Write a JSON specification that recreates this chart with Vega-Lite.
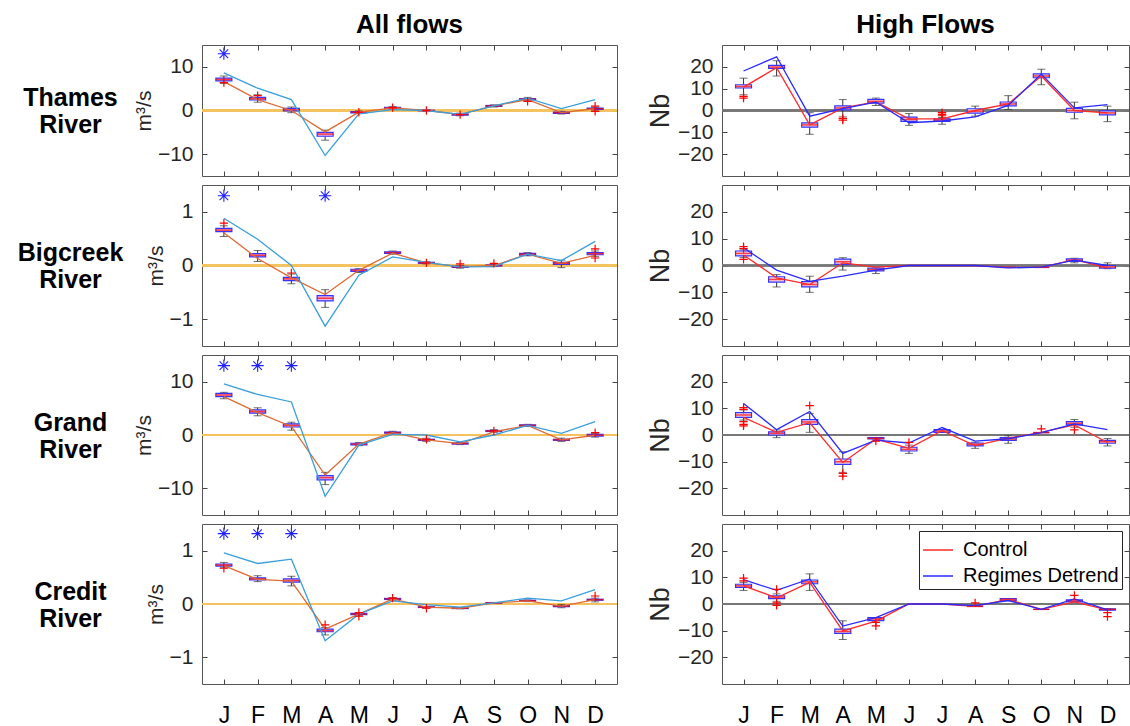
{
  "$schema": "https://vega.github.io/schema/vega-lite/v6.json",
  "padding": {"left": 16, "top": 11, "right": 0, "bottom": 0},
  "background": "white",
  "config": {
    "font": "Liberation Sans",
    "view": {"stroke": "#555555", "strokeWidth": 1},
    "axis": {
      "domain": false, "grid": false, "tickColor": "#444444", "tickSize": -5, "tickWidth": 1,
      "labelFontSize": 21, "labelColor": "#262626", "labelFlush": false, "labelPadding": 14,
      "titleFontSize": 21, "titleFontWeight": "normal", "titleColor": "#262626", "titlePadding": 3
    },
    "title": {"fontSize": 26, "fontWeight": "bold", "color": "#000000", "frame": "group", "anchor": "middle", "offset": 7}
  },
  "datasets": {
    "stats": [
      {"p":"A1","m":1,"lo":6.2,"q1":6.8,"md":7.1,"q3":7.4,"hi":7.9},
      {"p":"A1","m":2,"lo":1.9,"q1":2.4,"md":2.7,"q3":3.0,"hi":3.6},
      {"p":"A1","m":3,"lo":-0.5,"q1":-0.1,"md":0.2,"q3":0.5,"hi":0.8},
      {"p":"A1","m":4,"lo":-6.8,"q1":-5.9,"md":-5.4,"q3":-5.0,"hi":-4.5},
      {"p":"A1","m":5,"lo":-0.7,"q1":-0.55,"md":-0.4,"q3":-0.25,"hi":-0.1},
      {"p":"A1","m":6,"lo":0.3,"q1":0.45,"md":0.6,"q3":0.75,"hi":0.9},
      {"p":"A1","m":7,"lo":-0.15,"q1":-0.05,"md":0.0,"q3":0.05,"hi":0.15},
      {"p":"A1","m":8,"lo":-1.2,"q1":-1.05,"md":-0.9,"q3":-0.75,"hi":-0.6},
      {"p":"A1","m":9,"lo":0.8,"q1":0.95,"md":1.05,"q3":1.15,"hi":1.3},
      {"p":"A1","m":10,"lo":2.2,"q1":2.45,"md":2.6,"q3":2.75,"hi":3.0},
      {"p":"A1","m":11,"lo":-0.8,"q1":-0.65,"md":-0.5,"q3":-0.35,"hi":-0.2},
      {"p":"A1","m":12,"lo":0.1,"q1":0.25,"md":0.4,"q3":0.55,"hi":0.7},

      {"p":"A2","m":1,"lo":0.54,"q1":0.63,"md":0.66,"q3":0.69,"hi":0.74},
      {"p":"A2","m":2,"lo":0.075,"q1":0.16,"md":0.19,"q3":0.22,"hi":0.28},
      {"p":"A2","m":3,"lo":-0.34,"q1":-0.28,"md":-0.25,"q3":-0.22,"hi":-0.16},
      {"p":"A2","m":4,"lo":-0.78,"q1":-0.66,"md":-0.61,"q3":-0.56,"hi":-0.45},
      {"p":"A2","m":5,"lo":-0.13,"q1":-0.11,"md":-0.09,"q3":-0.07,"hi":-0.06},
      {"p":"A2","m":6,"lo":0.21,"q1":0.225,"md":0.24,"q3":0.255,"hi":0.27},
      {"p":"A2","m":7,"lo":0.03,"q1":0.04,"md":0.05,"q3":0.06,"hi":0.07},
      {"p":"A2","m":8,"lo":-0.05,"q1":-0.035,"md":-0.025,"q3":-0.015,"hi":0.0},
      {"p":"A2","m":9,"lo":-0.02,"q1":-0.01,"md":0.0,"q3":0.01,"hi":0.02},
      {"p":"A2","m":10,"lo":0.18,"q1":0.195,"md":0.21,"q3":0.225,"hi":0.24},
      {"p":"A2","m":11,"lo":-0.04,"q1":0.02,"md":0.04,"q3":0.06,"hi":0.1},
      {"p":"A2","m":12,"lo":0.17,"q1":0.2,"md":0.22,"q3":0.24,"hi":0.27},

      {"p":"A3","m":1,"lo":6.8,"q1":7.2,"md":7.5,"q3":7.8,"hi":8.0},
      {"p":"A3","m":2,"lo":3.6,"q1":4.1,"md":4.4,"q3":4.7,"hi":5.1},
      {"p":"A3","m":3,"lo":0.9,"q1":1.5,"md":1.8,"q3":2.1,"hi":2.4},
      {"p":"A3","m":4,"lo":-9.3,"q1":-8.4,"md":-8.0,"q3":-7.6,"hi":-7.0},
      {"p":"A3","m":5,"lo":-2.0,"q1":-1.85,"md":-1.7,"q3":-1.55,"hi":-1.4},
      {"p":"A3","m":6,"lo":0.2,"q1":0.35,"md":0.45,"q3":0.55,"hi":0.7},
      {"p":"A3","m":7,"lo":-1.2,"q1":-1.0,"md":-0.9,"q3":-0.8,"hi":-0.6},
      {"p":"A3","m":8,"lo":-1.8,"q1":-1.7,"md":-1.6,"q3":-1.5,"hi":-1.4},
      {"p":"A3","m":9,"lo":0.5,"q1":0.65,"md":0.75,"q3":0.85,"hi":1.0},
      {"p":"A3","m":10,"lo":1.6,"q1":1.7,"md":1.8,"q3":1.9,"hi":2.0},
      {"p":"A3","m":11,"lo":-1.2,"q1":-1.0,"md":-0.9,"q3":-0.8,"hi":-0.6},
      {"p":"A3","m":12,"lo":-0.4,"q1":-0.2,"md":-0.05,"q3":0.1,"hi":0.3},

      {"p":"A4","m":1,"lo":0.68,"q1":0.71,"md":0.73,"q3":0.75,"hi":0.78},
      {"p":"A4","m":2,"lo":0.42,"q1":0.45,"md":0.47,"q3":0.49,"hi":0.53},
      {"p":"A4","m":3,"lo":0.34,"q1":0.41,"md":0.44,"q3":0.47,"hi":0.52},
      {"p":"A4","m":4,"lo":-0.58,"q1":-0.52,"md":-0.5,"q3":-0.47,"hi":-0.44},
      {"p":"A4","m":5,"lo":-0.22,"q1":-0.2,"md":-0.19,"q3":-0.175,"hi":-0.16},
      {"p":"A4","m":6,"lo":0.07,"q1":0.085,"md":0.095,"q3":0.105,"hi":0.12},
      {"p":"A4","m":7,"lo":-0.075,"q1":-0.065,"md":-0.06,"q3":-0.05,"hi":-0.045},
      {"p":"A4","m":8,"lo":-0.09,"q1":-0.085,"md":-0.08,"q3":-0.07,"hi":-0.065},
      {"p":"A4","m":9,"lo":0.01,"q1":0.015,"md":0.02,"q3":0.025,"hi":0.03},
      {"p":"A4","m":10,"lo":0.045,"q1":0.055,"md":0.06,"q3":0.07,"hi":0.075},
      {"p":"A4","m":11,"lo":-0.07,"q1":-0.05,"md":-0.04,"q3":-0.03,"hi":-0.01},
      {"p":"A4","m":12,"lo":0.04,"q1":0.07,"md":0.08,"q3":0.09,"hi":0.11},

      {"p":"B1","m":1,"lo":7.2,"q1":10.3,"md":11.0,"q3":11.8,"hi":14.8},
      {"p":"B1","m":2,"lo":15.8,"q1":19.3,"md":19.9,"q3":20.7,"hi":22.8},
      {"p":"B1","m":3,"lo":-10.9,"q1":-7.6,"md":-6.6,"q3":-5.7,"hi":-1.0},
      {"p":"B1","m":4,"lo":-2.9,"q1":0.3,"md":1.2,"q3":2.1,"hi":5.0},
      {"p":"B1","m":5,"lo":2.3,"q1":3.4,"md":4.2,"q3":5.1,"hi":5.7},
      {"p":"B1","m":6,"lo":-6.8,"q1":-5.0,"md":-4.1,"q3":-3.0,"hi":-1.4},
      {"p":"B1","m":7,"lo":-6.3,"q1":-5.0,"md":-4.4,"q3":-3.8,"hi":-3.2},
      {"p":"B1","m":8,"lo":-2.6,"q1":-1.2,"md":-0.3,"q3":0.8,"hi":2.0},
      {"p":"B1","m":9,"lo":0.5,"q1":2.1,"md":3.0,"q3":3.9,"hi":6.8},
      {"p":"B1","m":10,"lo":11.8,"q1":15.0,"md":15.8,"q3":16.8,"hi":18.9},
      {"p":"B1","m":11,"lo":-3.8,"q1":-0.8,"md":0.0,"q3":1.0,"hi":3.8},
      {"p":"B1","m":12,"lo":-5.1,"q1":-2.0,"md":-1.1,"q3":-0.2,"hi":2.0},

      {"p":"B2","m":1,"lo":3.0,"q1":3.6,"md":4.5,"q3":5.4,"hi":5.8},
      {"p":"B2","m":2,"lo":-8.0,"q1":-6.2,"md":-5.2,"q3":-4.2,"hi":-3.4},
      {"p":"B2","m":3,"lo":-10.0,"q1":-8.0,"md":-7.1,"q3":-6.0,"hi":-4.0},
      {"p":"B2","m":4,"lo":-1.7,"q1":0.4,"md":1.4,"q3":2.4,"hi":2.9},
      {"p":"B2","m":5,"lo":-3.0,"q1":-2.0,"md":-1.5,"q3":-1.0,"hi":-0.9},
      {"p":"B2","m":9,"lo":-0.7,"q1":-0.7,"md":-0.7,"q3":-0.7,"hi":-0.7},
      {"p":"B2","m":10,"lo":-0.7,"q1":-0.7,"md":-0.7,"q3":-0.7,"hi":-0.7},
      {"p":"B2","m":11,"lo":1.0,"q1":1.5,"md":2.0,"q3":2.5,"hi":2.7},
      {"p":"B2","m":12,"lo":-1.2,"q1":-1.0,"md":-0.5,"q3":0.0,"hi":1.0},

      {"p":"B3","m":1,"lo":5.6,"q1":6.6,"md":7.5,"q3":8.4,"hi":9.4},
      {"p":"B3","m":2,"lo":-1.0,"q1":0.0,"md":0.6,"q3":1.2,"hi":1.9},
      {"p":"B3","m":3,"lo":1.0,"q1":4.0,"md":4.9,"q3":5.8,"hi":8.1},
      {"p":"B3","m":4,"lo":-14.0,"q1":-11.0,"md":-10.0,"q3":-9.0,"hi":-6.3},
      {"p":"B3","m":5,"lo":-1.5,"q1":-1.5,"md":-1.25,"q3":-1.0,"hi":-1.0},
      {"p":"B3","m":6,"lo":-6.9,"q1":-6.0,"md":-5.4,"q3":-4.6,"hi":-3.8},
      {"p":"B3","m":7,"lo":1.0,"q1":1.0,"md":1.5,"q3":2.0,"hi":2.0},
      {"p":"B3","m":8,"lo":-5.0,"q1":-4.1,"md":-3.5,"q3":-3.0,"hi":-2.7},
      {"p":"B3","m":9,"lo":-3.1,"q1":-2.0,"md":-1.5,"q3":-1.0,"hi":-0.3},
      {"p":"B3","m":10,"lo":0.9,"q1":0.9,"md":0.9,"q3":0.9,"hi":0.9},
      {"p":"B3","m":11,"lo":2.9,"q1":3.8,"md":4.4,"q3":5.0,"hi":5.8},
      {"p":"B3","m":12,"lo":-4.1,"q1":-3.1,"md":-2.5,"q3":-2.0,"hi":-1.3},

      {"p":"B4","m":1,"lo":5.1,"q1":6.2,"md":6.8,"q3":7.4,"hi":8.1},
      {"p":"B4","m":2,"lo":1.0,"q1":2.0,"md":2.6,"q3":3.1,"hi":3.8},
      {"p":"B4","m":3,"lo":5.1,"q1":7.6,"md":8.3,"q3":9.0,"hi":11.3},
      {"p":"B4","m":4,"lo":-13.3,"q1":-11.0,"md":-10.3,"q3":-9.4,"hi":-6.3},
      {"p":"B4","m":5,"lo":-6.2,"q1":-6.2,"md":-5.6,"q3":-5.1,"hi":-5.1},
      {"p":"B4","m":8,"lo":-0.9,"q1":-0.9,"md":-0.9,"q3":-0.9,"hi":-0.9},
      {"p":"B4","m":9,"lo":1.3,"q1":1.3,"md":1.7,"q3":2.0,"hi":2.0},
      {"p":"B4","m":10,"lo":-2.0,"q1":-2.0,"md":-2.0,"q3":-2.0,"hi":-2.0},
      {"p":"B4","m":11,"lo":0.8,"q1":0.8,"md":1.2,"q3":1.6,"hi":1.6},
      {"p":"B4","m":12,"lo":-2.3,"q1":-2.3,"md":-2.0,"q3":-1.8,"hi":-1.8}
    ],
    "lines": [
      {"p":"A1","m":1,"Control":6.6,"Regimes Detrend":8.6},
      {"p":"A1","m":2,"Control":2.5,"Regimes Detrend":5.1},
      {"p":"A1","m":3,"Control":0.0,"Regimes Detrend":2.5},
      {"p":"A1","m":4,"Control":-4.9,"Regimes Detrend":-10.3},
      {"p":"A1","m":5,"Control":-0.4,"Regimes Detrend":-0.75},
      {"p":"A1","m":6,"Control":0.6,"Regimes Detrend":0.2},
      {"p":"A1","m":7,"Control":0.0,"Regimes Detrend":0.0},
      {"p":"A1","m":8,"Control":-0.9,"Regimes Detrend":-0.9},
      {"p":"A1","m":9,"Control":1.05,"Regimes Detrend":1.05},
      {"p":"A1","m":10,"Control":2.5,"Regimes Detrend":2.85},
      {"p":"A1","m":11,"Control":-0.5,"Regimes Detrend":0.45},
      {"p":"A1","m":12,"Control":0.4,"Regimes Detrend":2.5},

      {"p":"A2","m":1,"Control":0.61,"Regimes Detrend":0.88},
      {"p":"A2","m":2,"Control":0.13,"Regimes Detrend":0.49},
      {"p":"A2","m":3,"Control":-0.23,"Regimes Detrend":0.0},
      {"p":"A2","m":4,"Control":-0.54,"Regimes Detrend":-1.13},
      {"p":"A2","m":5,"Control":-0.09,"Regimes Detrend":-0.18},
      {"p":"A2","m":6,"Control":0.23,"Regimes Detrend":0.16},
      {"p":"A2","m":7,"Control":0.05,"Regimes Detrend":0.06},
      {"p":"A2","m":8,"Control":-0.02,"Regimes Detrend":-0.025},
      {"p":"A2","m":9,"Control":0.0,"Regimes Detrend":-0.02},
      {"p":"A2","m":10,"Control":0.21,"Regimes Detrend":0.21},
      {"p":"A2","m":11,"Control":0.04,"Regimes Detrend":0.09},
      {"p":"A2","m":12,"Control":0.19,"Regimes Detrend":0.45},

      {"p":"A3","m":1,"Control":7.2,"Regimes Detrend":9.6},
      {"p":"A3","m":2,"Control":4.2,"Regimes Detrend":7.6},
      {"p":"A3","m":3,"Control":1.6,"Regimes Detrend":6.2},
      {"p":"A3","m":4,"Control":-7.5,"Regimes Detrend":-11.5},
      {"p":"A3","m":5,"Control":-1.7,"Regimes Detrend":-1.9},
      {"p":"A3","m":6,"Control":0.45,"Regimes Detrend":0.1},
      {"p":"A3","m":7,"Control":-0.9,"Regimes Detrend":0.0},
      {"p":"A3","m":8,"Control":-1.6,"Regimes Detrend":-1.3},
      {"p":"A3","m":9,"Control":0.6,"Regimes Detrend":0.0},
      {"p":"A3","m":10,"Control":1.8,"Regimes Detrend":1.8},
      {"p":"A3","m":11,"Control":-0.9,"Regimes Detrend":0.3},
      {"p":"A3","m":12,"Control":-0.05,"Regimes Detrend":2.5},

      {"p":"A4","m":1,"Control":0.72,"Regimes Detrend":0.96},
      {"p":"A4","m":2,"Control":0.46,"Regimes Detrend":0.76},
      {"p":"A4","m":3,"Control":0.43,"Regimes Detrend":0.84},
      {"p":"A4","m":4,"Control":-0.47,"Regimes Detrend":-0.69},
      {"p":"A4","m":5,"Control":-0.19,"Regimes Detrend":-0.19},
      {"p":"A4","m":6,"Control":0.095,"Regimes Detrend":0.06},
      {"p":"A4","m":7,"Control":-0.06,"Regimes Detrend":-0.01},
      {"p":"A4","m":8,"Control":-0.08,"Regimes Detrend":-0.06},
      {"p":"A4","m":9,"Control":0.02,"Regimes Detrend":0.02},
      {"p":"A4","m":10,"Control":0.06,"Regimes Detrend":0.11},
      {"p":"A4","m":11,"Control":-0.04,"Regimes Detrend":0.06},
      {"p":"A4","m":12,"Control":0.08,"Regimes Detrend":0.27},

      {"p":"B1","m":1,"Control":10.7,"Regimes Detrend":18.1},
      {"p":"B1","m":2,"Control":19.6,"Regimes Detrend":24.6},
      {"p":"B1","m":3,"Control":-6.6,"Regimes Detrend":-2.6},
      {"p":"B1","m":4,"Control":1.2,"Regimes Detrend":0.9},
      {"p":"B1","m":5,"Control":3.9,"Regimes Detrend":3.8},
      {"p":"B1","m":6,"Control":-3.8,"Regimes Detrend":-5.6},
      {"p":"B1","m":7,"Control":-3.8,"Regimes Detrend":-4.8},
      {"p":"B1","m":8,"Control":0.0,"Regimes Detrend":-2.9},
      {"p":"B1","m":9,"Control":3.0,"Regimes Detrend":2.3},
      {"p":"B1","m":10,"Control":15.8,"Regimes Detrend":16.7},
      {"p":"B1","m":11,"Control":0.0,"Regimes Detrend":1.2},
      {"p":"B1","m":12,"Control":-1.1,"Regimes Detrend":2.7},

      {"p":"B2","m":1,"Control":3.9,"Regimes Detrend":6.6},
      {"p":"B2","m":2,"Control":-4.6,"Regimes Detrend":-1.7},
      {"p":"B2","m":3,"Control":-7.1,"Regimes Detrend":-5.9},
      {"p":"B2","m":4,"Control":1.0,"Regimes Detrend":-4.0},
      {"p":"B2","m":5,"Control":-0.6,"Regimes Detrend":-1.7},
      {"p":"B2","m":6,"Control":0.0,"Regimes Detrend":0.0},
      {"p":"B2","m":7,"Control":0.0,"Regimes Detrend":0.0},
      {"p":"B2","m":8,"Control":0.0,"Regimes Detrend":0.0},
      {"p":"B2","m":9,"Control":-0.7,"Regimes Detrend":-0.9},
      {"p":"B2","m":10,"Control":-0.7,"Regimes Detrend":-0.6},
      {"p":"B2","m":11,"Control":2.2,"Regimes Detrend":2.0},
      {"p":"B2","m":12,"Control":-0.9,"Regimes Detrend":0.0},

      {"p":"B3","m":1,"Control":6.6,"Regimes Detrend":11.8},
      {"p":"B3","m":2,"Control":1.0,"Regimes Detrend":2.0},
      {"p":"B3","m":3,"Control":4.6,"Regimes Detrend":8.8},
      {"p":"B3","m":4,"Control":-10.3,"Regimes Detrend":-6.9},
      {"p":"B3","m":5,"Control":-1.5,"Regimes Detrend":-1.9},
      {"p":"B3","m":6,"Control":-5.0,"Regimes Detrend":-3.0},
      {"p":"B3","m":7,"Control":1.6,"Regimes Detrend":2.8},
      {"p":"B3","m":8,"Control":-4.0,"Regimes Detrend":-2.3},
      {"p":"B3","m":9,"Control":-1.2,"Regimes Detrend":-1.4},
      {"p":"B3","m":10,"Control":1.0,"Regimes Detrend":0.9},
      {"p":"B3","m":11,"Control":3.8,"Regimes Detrend":4.2},
      {"p":"B3","m":12,"Control":-2.8,"Regimes Detrend":2.0},

      {"p":"B4","m":1,"Control":6.8,"Regimes Detrend":9.1},
      {"p":"B4","m":2,"Control":2.3,"Regimes Detrend":5.1},
      {"p":"B4","m":3,"Control":8.1,"Regimes Detrend":9.4},
      {"p":"B4","m":4,"Control":-10.1,"Regimes Detrend":-8.3},
      {"p":"B4","m":5,"Control":-6.4,"Regimes Detrend":-5.1},
      {"p":"B4","m":6,"Control":0.0,"Regimes Detrend":0.0},
      {"p":"B4","m":7,"Control":0.0,"Regimes Detrend":0.0},
      {"p":"B4","m":8,"Control":-0.9,"Regimes Detrend":-0.6},
      {"p":"B4","m":9,"Control":1.7,"Regimes Detrend":1.3},
      {"p":"B4","m":10,"Control":-2.0,"Regimes Detrend":-2.0},
      {"p":"B4","m":11,"Control":0.8,"Regimes Detrend":1.9},
      {"p":"B4","m":12,"Control":-2.2,"Regimes Detrend":-2.2}
    ],
    "outliers": [
      {"p":"A1","m":1,"v":6.4},{"p":"A1","m":2,"v":3.4},{"p":"A1","m":5,"v":-0.4},{"p":"A1","m":6,"v":0.65},
      {"p":"A1","m":7,"v":0.0},{"p":"A1","m":8,"v":-0.95},{"p":"A1","m":10,"v":2.1},{"p":"A1","m":12,"v":1.0},{"p":"A1","m":12,"v":-0.2},
      {"p":"A2","m":1,"v":0.79},{"p":"A2","m":3,"v":-0.14},{"p":"A2","m":7,"v":0.05},{"p":"A2","m":8,"v":0.03},
      {"p":"A2","m":9,"v":0.04},{"p":"A2","m":12,"v":0.31},{"p":"A2","m":12,"v":0.14},
      {"p":"A3","m":7,"v":-0.8},{"p":"A3","m":9,"v":0.75},{"p":"A3","m":12,"v":0.45},
      {"p":"A4","m":1,"v":0.67},{"p":"A4","m":4,"v":-0.39},{"p":"A4","m":5,"v":-0.16},{"p":"A4","m":5,"v":-0.23},
      {"p":"A4","m":6,"v":0.11},{"p":"A4","m":7,"v":-0.08},{"p":"A4","m":12,"v":0.15},
      {"p":"B1","m":1,"v":6.5},{"p":"B1","m":1,"v":5.7},{"p":"B1","m":4,"v":-3.6},{"p":"B1","m":4,"v":-4.4},
      {"p":"B1","m":7,"v":-1.0},{"p":"B1","m":7,"v":-1.8},{"p":"B1","m":7,"v":-2.4},
      {"p":"B2","m":1,"v":7.0},{"p":"B2","m":1,"v":6.3},{"p":"B2","m":1,"v":2.3},
      {"p":"B3","m":1,"v":10.3},{"p":"B3","m":1,"v":9.6},{"p":"B3","m":1,"v":5.0},{"p":"B3","m":1,"v":4.0},{"p":"B3","m":1,"v":3.4},
      {"p":"B3","m":3,"v":11.0},{"p":"B3","m":4,"v":-14.4},{"p":"B3","m":4,"v":-15.4},{"p":"B3","m":5,"v":-2.3},
      {"p":"B3","m":6,"v":-2.8},{"p":"B3","m":10,"v":2.3},{"p":"B3","m":11,"v":1.9},
      {"p":"B4","m":1,"v":9.7},{"p":"B4","m":1,"v":8.7},{"p":"B4","m":2,"v":5.5},{"p":"B4","m":2,"v":0.4},{"p":"B4","m":2,"v":-0.5},
      {"p":"B4","m":5,"v":-6.9},{"p":"B4","m":5,"v":-8.2},{"p":"B4","m":8,"v":0.4},{"p":"B4","m":11,"v":3.2},
      {"p":"B4","m":12,"v":-3.2},{"p":"B4","m":12,"v":-4.7}
    ],
    "stars": [
      {"p":"A1","m":1,"v":13},
      {"p":"A2","m":1,"v":1.3},{"p":"A2","m":4,"v":1.3},
      {"p":"A3","m":1,"v":13},{"p":"A3","m":2,"v":13},{"p":"A3","m":3,"v":13},
      {"p":"A4","m":1,"v":1.32},{"p":"A4","m":2,"v":1.32},{"p":"A4","m":3,"v":1.32}
    ]
  },
  "columns": 2,
  "bounds": "flush",
  "spacing": {"row": 9, "column": 105},
  "resolve": {"scale": {"color": "independent"}, "legend": {"color": "independent"}},
  "concat": [
    {
      "width": 415, "height": 131,
      "title": {"text": "All flows"},
      "data": {"name": "stats"},
      "transform": [{"filter": "datum.p == 'A1'"}],
      "layer": [
        {"mark": {"type": "rule", "color": "#F4C25E", "strokeWidth": 1.4},
         "encoding": {"y": {"datum": 0, "type": "quantitative", "axis": null}}},
        {"mark": {"type": "rule", "color": "#333333", "strokeWidth": 1},
         "encoding": {
           "x": {"field": "m", "type": "quantitative", "scale": {"domain": [0.5, 12.5], "nice": false, "zero": false},
                 "axis": {"orient": "bottom", "values": [1,2,3,4,5,6,7,8,9,10,11,12], "labels": false, "title": null}},
           "y": {"field": "lo", "type": "quantitative", "scale": {"domain": [-15, 15], "nice": false, "zero": false},
                 "axis": {"orient": "left", "values": [-10, 0, 10], "title": "m³/s"}},
           "y2": {"field": "hi"}}},
        {"transform": [{"filter": "datum.hi > datum.lo"}],
         "mark": {"type": "tick", "orient": "horizontal", "color": "#333333", "size": 8, "thickness": 1},
         "encoding": {"x": {"field": "m", "type": "quantitative", "axis": null}, "y": {"field": "lo", "type": "quantitative", "axis": null}}},
        {"transform": [{"filter": "datum.hi > datum.lo"}],
         "mark": {"type": "tick", "orient": "horizontal", "color": "#333333", "size": 8, "thickness": 1},
         "encoding": {"x": {"field": "m", "type": "quantitative", "axis": null}, "y": {"field": "hi", "type": "quantitative", "axis": null}}},
        {"mark": {"type": "bar", "size": 16, "fill": "#E9B8E8", "stroke": "#3535FF", "strokeWidth": 1.2},
         "encoding": {
           "x": {"field": "m", "type": "quantitative", "axis": {"orient": "top", "values": [1,2,3,4,5,6,7,8,9,10,11,12], "labels": false, "title": null}},
           "y": {"field": "q1", "type": "quantitative", "axis": {"orient": "right", "values": [-10, 0, 10], "labels": false, "title": null}},
           "y2": {"field": "q3"}}},
        {"mark": {"type": "tick", "orient": "horizontal", "color": "#FF0000", "size": 16, "thickness": 1.5},
         "encoding": {
           "x": {"field": "m", "type": "quantitative", "axis": null},
           "y": {"field": "md", "type": "quantitative",
                 "axis": {"orient": "left", "ticks": false, "labels": false, "title": ["Thames", "River"], "titleAngle": 0, "titleAlign": "center", "titleBaseline": "bottom", "titlePadding": 105, "titleFontSize": 25, "titleFontWeight": "bold", "titleColor": "#000000", "titleLineHeight": 27}}}},
        {"data": {"name": "lines"}, "transform": [{"filter": "datum.p == 'A1'"}, {"fold": ["Control", "Regimes Detrend"], "as": ["s", "v"]}],
         "mark": {"type": "line", "strokeWidth": 1.3},
         "encoding": {
           "x": {"field": "m", "type": "quantitative", "axis": null},
           "y": {"field": "v", "type": "quantitative", "axis": null},
           "color": {"field": "s", "type": "nominal", "scale": {"domain": ["Control", "Regimes Detrend"], "range": ["#DE6A35", "#3A9FDB"]}, "legend": null}}},
        {"data": {"name": "outliers"}, "transform": [{"filter": "datum.p == 'A1'"}],
         "mark": {"type": "point", "shape": "M-1,0L1,0M0,-1L0,1", "filled": false, "stroke": "#FF0000", "strokeWidth": 1.2, "size": 70, "opacity": 1},
         "encoding": {"x": {"field": "m", "type": "quantitative", "axis": null}, "y": {"field": "v", "type": "quantitative", "axis": null}}},
        {"data": {"name": "stars"}, "transform": [{"filter": "datum.p == 'A1'"}],
         "mark": {"type": "point", "shape": "M-1,0L1,0M0,-1L0,1M-0.7,-0.7L0.7,0.7M-0.7,0.7L0.7,-0.7", "filled": false, "stroke": "#2020FF", "strokeWidth": 1.1, "size": 150, "opacity": 1},
         "encoding": {"x": {"field": "m", "type": "quantitative", "axis": null}, "y": {"field": "v", "type": "quantitative", "axis": null}}}
      ],
      "resolve": {"axis": {"x": "independent", "y": "independent"}}
    },
    {
      "width": 407, "height": 131,
      "title": {"text": "High Flows"},
      "data": {"name": "stats"},
      "transform": [{"filter": "datum.p == 'B1'"}],
      "layer": [
        {"mark": {"type": "rule", "color": "#777777", "strokeWidth": 1.4},
         "encoding": {"y": {"datum": 0, "type": "quantitative", "axis": null}}},
        {"mark": {"type": "rule", "color": "#333333", "strokeWidth": 1},
         "encoding": {
           "x": {"field": "m", "type": "quantitative", "scale": {"domain": [0.5, 12.5], "nice": false, "zero": false},
                 "axis": {"orient": "bottom", "values": [1,2,3,4,5,6,7,8,9,10,11,12], "labels": false, "title": null}},
           "y": {"field": "lo", "type": "quantitative", "scale": {"domain": [-30, 30], "nice": false, "zero": false},
                 "axis": {"orient": "left", "values": [-20, -10, 0, 10, 20], "title": "Nb", "titleFontSize": 27, "titlePadding": 3}},
           "y2": {"field": "hi"}}},
        {"transform": [{"filter": "datum.hi > datum.lo"}],
         "mark": {"type": "tick", "orient": "horizontal", "color": "#333333", "size": 8, "thickness": 1},
         "encoding": {"x": {"field": "m", "type": "quantitative", "axis": null}, "y": {"field": "lo", "type": "quantitative", "axis": null}}},
        {"transform": [{"filter": "datum.hi > datum.lo"}],
         "mark": {"type": "tick", "orient": "horizontal", "color": "#333333", "size": 8, "thickness": 1},
         "encoding": {"x": {"field": "m", "type": "quantitative", "axis": null}, "y": {"field": "hi", "type": "quantitative", "axis": null}}},
        {"mark": {"type": "bar", "size": 16, "fill": "#F6D3E4", "stroke": "#3535FF", "strokeWidth": 1.2},
         "encoding": {
           "x": {"field": "m", "type": "quantitative", "axis": {"orient": "top", "values": [1,2,3,4,5,6,7,8,9,10,11,12], "labels": false, "title": null}},
           "y": {"field": "q1", "type": "quantitative", "axis": {"orient": "right", "values": [-20, -10, 0, 10, 20], "labels": false, "title": null}},
           "y2": {"field": "q3"}}},
        {"mark": {"type": "tick", "orient": "horizontal", "color": "#FF0000", "size": 16, "thickness": 1.5},
         "encoding": {"x": {"field": "m", "type": "quantitative", "axis": null}, "y": {"field": "md", "type": "quantitative", "axis": null}}},
        {"data": {"name": "lines"}, "transform": [{"filter": "datum.p == 'B1'"}, {"fold": ["Control", "Regimes Detrend"], "as": ["s", "v"]}],
         "mark": {"type": "line", "strokeWidth": 1.3},
         "encoding": {
           "x": {"field": "m", "type": "quantitative", "axis": null},
           "y": {"field": "v", "type": "quantitative", "axis": null},
           "color": {"field": "s", "type": "nominal", "scale": {"domain": ["Control", "Regimes Detrend"], "range": ["#FF2A2A", "#2A2AFF"]}, "legend": null}}},
        {"data": {"name": "outliers"}, "transform": [{"filter": "datum.p == 'B1'"}],
         "mark": {"type": "point", "shape": "M-1,0L1,0M0,-1L0,1", "filled": false, "stroke": "#FF0000", "strokeWidth": 1.2, "size": 70, "opacity": 1},
         "encoding": {"x": {"field": "m", "type": "quantitative", "axis": null}, "y": {"field": "v", "type": "quantitative", "axis": null}}}
      ],
      "resolve": {"axis": {"x": "independent", "y": "independent"}}
    },
    {
      "width": 415, "height": 161,
      "data": {"name": "stats"},
      "transform": [{"filter": "datum.p == 'A2'"}],
      "layer": [
        {"mark": {"type": "rule", "color": "#F4C25E", "strokeWidth": 1.4},
         "encoding": {"y": {"datum": 0, "type": "quantitative", "axis": null}}},
        {"mark": {"type": "rule", "color": "#333333", "strokeWidth": 1},
         "encoding": {
           "x": {"field": "m", "type": "quantitative", "scale": {"domain": [0.5, 12.5], "nice": false, "zero": false},
                 "axis": {"orient": "bottom", "values": [1,2,3,4,5,6,7,8,9,10,11,12], "labels": false, "title": null}},
           "y": {"field": "lo", "type": "quantitative", "scale": {"domain": [-1.5, 1.5], "nice": false, "zero": false},
                 "axis": {"orient": "left", "values": [-1, 0, 1], "title": "m³/s"}},
           "y2": {"field": "hi"}}},
        {"transform": [{"filter": "datum.hi > datum.lo"}],
         "mark": {"type": "tick", "orient": "horizontal", "color": "#333333", "size": 8, "thickness": 1},
         "encoding": {"x": {"field": "m", "type": "quantitative", "axis": null}, "y": {"field": "lo", "type": "quantitative", "axis": null}}},
        {"transform": [{"filter": "datum.hi > datum.lo"}],
         "mark": {"type": "tick", "orient": "horizontal", "color": "#333333", "size": 8, "thickness": 1},
         "encoding": {"x": {"field": "m", "type": "quantitative", "axis": null}, "y": {"field": "hi", "type": "quantitative", "axis": null}}},
        {"mark": {"type": "bar", "size": 16, "fill": "#E9B8E8", "stroke": "#3535FF", "strokeWidth": 1.2},
         "encoding": {
           "x": {"field": "m", "type": "quantitative", "axis": {"orient": "top", "values": [1,2,3,4,5,6,7,8,9,10,11,12], "labels": false, "title": null}},
           "y": {"field": "q1", "type": "quantitative", "axis": {"orient": "right", "values": [-1, 0, 1], "labels": false, "title": null}},
           "y2": {"field": "q3"}}},
        {"mark": {"type": "tick", "orient": "horizontal", "color": "#FF0000", "size": 16, "thickness": 1.5},
         "encoding": {
           "x": {"field": "m", "type": "quantitative", "axis": null},
           "y": {"field": "md", "type": "quantitative",
                 "axis": {"orient": "left", "ticks": false, "labels": false, "title": ["Bigcreek", "River"], "titleAngle": 0, "titleAlign": "center", "titleBaseline": "bottom", "titlePadding": 105, "titleFontSize": 25, "titleFontWeight": "bold", "titleColor": "#000000", "titleLineHeight": 27}}}},
        {"data": {"name": "lines"}, "transform": [{"filter": "datum.p == 'A2'"}, {"fold": ["Control", "Regimes Detrend"], "as": ["s", "v"]}],
         "mark": {"type": "line", "strokeWidth": 1.3},
         "encoding": {
           "x": {"field": "m", "type": "quantitative", "axis": null},
           "y": {"field": "v", "type": "quantitative", "axis": null},
           "color": {"field": "s", "type": "nominal", "scale": {"domain": ["Control", "Regimes Detrend"], "range": ["#DE6A35", "#3A9FDB"]}, "legend": null}}},
        {"data": {"name": "outliers"}, "transform": [{"filter": "datum.p == 'A2'"}],
         "mark": {"type": "point", "shape": "M-1,0L1,0M0,-1L0,1", "filled": false, "stroke": "#FF0000", "strokeWidth": 1.2, "size": 70, "opacity": 1},
         "encoding": {"x": {"field": "m", "type": "quantitative", "axis": null}, "y": {"field": "v", "type": "quantitative", "axis": null}}},
        {"data": {"name": "stars"}, "transform": [{"filter": "datum.p == 'A2'"}],
         "mark": {"type": "point", "shape": "M-1,0L1,0M0,-1L0,1M-0.7,-0.7L0.7,0.7M-0.7,0.7L0.7,-0.7", "filled": false, "stroke": "#2020FF", "strokeWidth": 1.1, "size": 150, "opacity": 1},
         "encoding": {"x": {"field": "m", "type": "quantitative", "axis": null}, "y": {"field": "v", "type": "quantitative", "axis": null}}}
      ],
      "resolve": {"axis": {"x": "independent", "y": "independent"}}
    },
    {
      "width": 407, "height": 161,
      "data": {"name": "stats"},
      "transform": [{"filter": "datum.p == 'B2'"}],
      "layer": [
        {"mark": {"type": "rule", "color": "#777777", "strokeWidth": 1.4},
         "encoding": {"y": {"datum": 0, "type": "quantitative", "axis": null}}},
        {"mark": {"type": "rule", "color": "#333333", "strokeWidth": 1},
         "encoding": {
           "x": {"field": "m", "type": "quantitative", "scale": {"domain": [0.5, 12.5], "nice": false, "zero": false},
                 "axis": {"orient": "bottom", "values": [1,2,3,4,5,6,7,8,9,10,11,12], "labels": false, "title": null}},
           "y": {"field": "lo", "type": "quantitative", "scale": {"domain": [-30, 30], "nice": false, "zero": false},
                 "axis": {"orient": "left", "values": [-20, -10, 0, 10, 20], "title": "Nb", "titleFontSize": 27, "titlePadding": 3}},
           "y2": {"field": "hi"}}},
        {"transform": [{"filter": "datum.hi > datum.lo"}],
         "mark": {"type": "tick", "orient": "horizontal", "color": "#333333", "size": 8, "thickness": 1},
         "encoding": {"x": {"field": "m", "type": "quantitative", "axis": null}, "y": {"field": "lo", "type": "quantitative", "axis": null}}},
        {"transform": [{"filter": "datum.hi > datum.lo"}],
         "mark": {"type": "tick", "orient": "horizontal", "color": "#333333", "size": 8, "thickness": 1},
         "encoding": {"x": {"field": "m", "type": "quantitative", "axis": null}, "y": {"field": "hi", "type": "quantitative", "axis": null}}},
        {"mark": {"type": "bar", "size": 16, "fill": "#F6D3E4", "stroke": "#3535FF", "strokeWidth": 1.2},
         "encoding": {
           "x": {"field": "m", "type": "quantitative", "axis": {"orient": "top", "values": [1,2,3,4,5,6,7,8,9,10,11,12], "labels": false, "title": null}},
           "y": {"field": "q1", "type": "quantitative", "axis": {"orient": "right", "values": [-20, -10, 0, 10, 20], "labels": false, "title": null}},
           "y2": {"field": "q3"}}},
        {"mark": {"type": "tick", "orient": "horizontal", "color": "#FF0000", "size": 16, "thickness": 1.5},
         "encoding": {"x": {"field": "m", "type": "quantitative", "axis": null}, "y": {"field": "md", "type": "quantitative", "axis": null}}},
        {"data": {"name": "lines"}, "transform": [{"filter": "datum.p == 'B2'"}, {"fold": ["Control", "Regimes Detrend"], "as": ["s", "v"]}],
         "mark": {"type": "line", "strokeWidth": 1.3},
         "encoding": {
           "x": {"field": "m", "type": "quantitative", "axis": null},
           "y": {"field": "v", "type": "quantitative", "axis": null},
           "color": {"field": "s", "type": "nominal", "scale": {"domain": ["Control", "Regimes Detrend"], "range": ["#FF2A2A", "#2A2AFF"]}, "legend": null}}},
        {"data": {"name": "outliers"}, "transform": [{"filter": "datum.p == 'B2'"}],
         "mark": {"type": "point", "shape": "M-1,0L1,0M0,-1L0,1", "filled": false, "stroke": "#FF0000", "strokeWidth": 1.2, "size": 70, "opacity": 1},
         "encoding": {"x": {"field": "m", "type": "quantitative", "axis": null}, "y": {"field": "v", "type": "quantitative", "axis": null}}}
      ],
      "resolve": {"axis": {"x": "independent", "y": "independent"}}
    },
    {
      "width": 415, "height": 160,
      "data": {"name": "stats"},
      "transform": [{"filter": "datum.p == 'A3'"}],
      "layer": [
        {"mark": {"type": "rule", "color": "#F4C25E", "strokeWidth": 1.4},
         "encoding": {"y": {"datum": 0, "type": "quantitative", "axis": null}}},
        {"mark": {"type": "rule", "color": "#333333", "strokeWidth": 1},
         "encoding": {
           "x": {"field": "m", "type": "quantitative", "scale": {"domain": [0.5, 12.5], "nice": false, "zero": false},
                 "axis": {"orient": "bottom", "values": [1,2,3,4,5,6,7,8,9,10,11,12], "labels": false, "title": null}},
           "y": {"field": "lo", "type": "quantitative", "scale": {"domain": [-15, 15], "nice": false, "zero": false},
                 "axis": {"orient": "left", "values": [-10, 0, 10], "title": "m³/s"}},
           "y2": {"field": "hi"}}},
        {"transform": [{"filter": "datum.hi > datum.lo"}],
         "mark": {"type": "tick", "orient": "horizontal", "color": "#333333", "size": 8, "thickness": 1},
         "encoding": {"x": {"field": "m", "type": "quantitative", "axis": null}, "y": {"field": "lo", "type": "quantitative", "axis": null}}},
        {"transform": [{"filter": "datum.hi > datum.lo"}],
         "mark": {"type": "tick", "orient": "horizontal", "color": "#333333", "size": 8, "thickness": 1},
         "encoding": {"x": {"field": "m", "type": "quantitative", "axis": null}, "y": {"field": "hi", "type": "quantitative", "axis": null}}},
        {"mark": {"type": "bar", "size": 16, "fill": "#E9B8E8", "stroke": "#3535FF", "strokeWidth": 1.2},
         "encoding": {
           "x": {"field": "m", "type": "quantitative", "axis": {"orient": "top", "values": [1,2,3,4,5,6,7,8,9,10,11,12], "labels": false, "title": null}},
           "y": {"field": "q1", "type": "quantitative", "axis": {"orient": "right", "values": [-10, 0, 10], "labels": false, "title": null}},
           "y2": {"field": "q3"}}},
        {"mark": {"type": "tick", "orient": "horizontal", "color": "#FF0000", "size": 16, "thickness": 1.5},
         "encoding": {
           "x": {"field": "m", "type": "quantitative", "axis": null},
           "y": {"field": "md", "type": "quantitative",
                 "axis": {"orient": "left", "ticks": false, "labels": false, "title": ["Grand", "River"], "titleAngle": 0, "titleAlign": "center", "titleBaseline": "bottom", "titlePadding": 105, "titleFontSize": 25, "titleFontWeight": "bold", "titleColor": "#000000", "titleLineHeight": 27}}}},
        {"data": {"name": "lines"}, "transform": [{"filter": "datum.p == 'A3'"}, {"fold": ["Control", "Regimes Detrend"], "as": ["s", "v"]}],
         "mark": {"type": "line", "strokeWidth": 1.3},
         "encoding": {
           "x": {"field": "m", "type": "quantitative", "axis": null},
           "y": {"field": "v", "type": "quantitative", "axis": null},
           "color": {"field": "s", "type": "nominal", "scale": {"domain": ["Control", "Regimes Detrend"], "range": ["#DE6A35", "#3A9FDB"]}, "legend": null}}},
        {"data": {"name": "outliers"}, "transform": [{"filter": "datum.p == 'A3'"}],
         "mark": {"type": "point", "shape": "M-1,0L1,0M0,-1L0,1", "filled": false, "stroke": "#FF0000", "strokeWidth": 1.2, "size": 70, "opacity": 1},
         "encoding": {"x": {"field": "m", "type": "quantitative", "axis": null}, "y": {"field": "v", "type": "quantitative", "axis": null}}},
        {"data": {"name": "stars"}, "transform": [{"filter": "datum.p == 'A3'"}],
         "mark": {"type": "point", "shape": "M-1,0L1,0M0,-1L0,1M-0.7,-0.7L0.7,0.7M-0.7,0.7L0.7,-0.7", "filled": false, "stroke": "#2020FF", "strokeWidth": 1.1, "size": 150, "opacity": 1},
         "encoding": {"x": {"field": "m", "type": "quantitative", "axis": null}, "y": {"field": "v", "type": "quantitative", "axis": null}}}
      ],
      "resolve": {"axis": {"x": "independent", "y": "independent"}}
    },
    {
      "width": 407, "height": 160,
      "data": {"name": "stats"},
      "transform": [{"filter": "datum.p == 'B3'"}],
      "layer": [
        {"mark": {"type": "rule", "color": "#777777", "strokeWidth": 1.4},
         "encoding": {"y": {"datum": 0, "type": "quantitative", "axis": null}}},
        {"mark": {"type": "rule", "color": "#333333", "strokeWidth": 1},
         "encoding": {
           "x": {"field": "m", "type": "quantitative", "scale": {"domain": [0.5, 12.5], "nice": false, "zero": false},
                 "axis": {"orient": "bottom", "values": [1,2,3,4,5,6,7,8,9,10,11,12], "labels": false, "title": null}},
           "y": {"field": "lo", "type": "quantitative", "scale": {"domain": [-30, 30], "nice": false, "zero": false},
                 "axis": {"orient": "left", "values": [-20, -10, 0, 10, 20], "title": "Nb", "titleFontSize": 27, "titlePadding": 3}},
           "y2": {"field": "hi"}}},
        {"transform": [{"filter": "datum.hi > datum.lo"}],
         "mark": {"type": "tick", "orient": "horizontal", "color": "#333333", "size": 8, "thickness": 1},
         "encoding": {"x": {"field": "m", "type": "quantitative", "axis": null}, "y": {"field": "lo", "type": "quantitative", "axis": null}}},
        {"transform": [{"filter": "datum.hi > datum.lo"}],
         "mark": {"type": "tick", "orient": "horizontal", "color": "#333333", "size": 8, "thickness": 1},
         "encoding": {"x": {"field": "m", "type": "quantitative", "axis": null}, "y": {"field": "hi", "type": "quantitative", "axis": null}}},
        {"mark": {"type": "bar", "size": 16, "fill": "#F6D3E4", "stroke": "#3535FF", "strokeWidth": 1.2},
         "encoding": {
           "x": {"field": "m", "type": "quantitative", "axis": {"orient": "top", "values": [1,2,3,4,5,6,7,8,9,10,11,12], "labels": false, "title": null}},
           "y": {"field": "q1", "type": "quantitative", "axis": {"orient": "right", "values": [-20, -10, 0, 10, 20], "labels": false, "title": null}},
           "y2": {"field": "q3"}}},
        {"mark": {"type": "tick", "orient": "horizontal", "color": "#FF0000", "size": 16, "thickness": 1.5},
         "encoding": {"x": {"field": "m", "type": "quantitative", "axis": null}, "y": {"field": "md", "type": "quantitative", "axis": null}}},
        {"data": {"name": "lines"}, "transform": [{"filter": "datum.p == 'B3'"}, {"fold": ["Control", "Regimes Detrend"], "as": ["s", "v"]}],
         "mark": {"type": "line", "strokeWidth": 1.3},
         "encoding": {
           "x": {"field": "m", "type": "quantitative", "axis": null},
           "y": {"field": "v", "type": "quantitative", "axis": null},
           "color": {"field": "s", "type": "nominal", "scale": {"domain": ["Control", "Regimes Detrend"], "range": ["#FF2A2A", "#2A2AFF"]}, "legend": null}}},
        {"data": {"name": "outliers"}, "transform": [{"filter": "datum.p == 'B3'"}],
         "mark": {"type": "point", "shape": "M-1,0L1,0M0,-1L0,1", "filled": false, "stroke": "#FF0000", "strokeWidth": 1.2, "size": 70, "opacity": 1},
         "encoding": {"x": {"field": "m", "type": "quantitative", "axis": null}, "y": {"field": "v", "type": "quantitative", "axis": null}}}
      ],
      "resolve": {"axis": {"x": "independent", "y": "independent"}}
    },
    {
      "width": 415, "height": 160,
      "data": {"name": "stats"},
      "transform": [{"filter": "datum.p == 'A4'"}],
      "layer": [
        {"mark": {"type": "rule", "color": "#F4C25E", "strokeWidth": 1.4},
         "encoding": {"y": {"datum": 0, "type": "quantitative", "axis": null}}},
        {"mark": {"type": "rule", "color": "#333333", "strokeWidth": 1},
         "encoding": {
           "x": {"field": "m", "type": "quantitative", "scale": {"domain": [0.5, 12.5], "nice": false, "zero": false},
                 "axis": {"orient": "bottom", "values": [1,2,3,4,5,6,7,8,9,10,11,12], "labels": true, "title": null,
                          "labelExpr": "['J','F','M','A','M','J','J','A','S','O','N','D'][datum.value - 1]", "labelFontSize": 23, "labelColor": "#000000", "labelPadding": 25}},
           "y": {"field": "lo", "type": "quantitative", "scale": {"domain": [-1.5, 1.5], "nice": false, "zero": false},
                 "axis": {"orient": "left", "values": [-1, 0, 1], "title": "m³/s"}},
           "y2": {"field": "hi"}}},
        {"transform": [{"filter": "datum.hi > datum.lo"}],
         "mark": {"type": "tick", "orient": "horizontal", "color": "#333333", "size": 8, "thickness": 1},
         "encoding": {"x": {"field": "m", "type": "quantitative", "axis": null}, "y": {"field": "lo", "type": "quantitative", "axis": null}}},
        {"transform": [{"filter": "datum.hi > datum.lo"}],
         "mark": {"type": "tick", "orient": "horizontal", "color": "#333333", "size": 8, "thickness": 1},
         "encoding": {"x": {"field": "m", "type": "quantitative", "axis": null}, "y": {"field": "hi", "type": "quantitative", "axis": null}}},
        {"mark": {"type": "bar", "size": 16, "fill": "#E9B8E8", "stroke": "#3535FF", "strokeWidth": 1.2},
         "encoding": {
           "x": {"field": "m", "type": "quantitative", "axis": {"orient": "top", "values": [1,2,3,4,5,6,7,8,9,10,11,12], "labels": false, "title": null}},
           "y": {"field": "q1", "type": "quantitative", "axis": {"orient": "right", "values": [-1, 0, 1], "labels": false, "title": null}},
           "y2": {"field": "q3"}}},
        {"mark": {"type": "tick", "orient": "horizontal", "color": "#FF0000", "size": 16, "thickness": 1.5},
         "encoding": {
           "x": {"field": "m", "type": "quantitative", "axis": null},
           "y": {"field": "md", "type": "quantitative",
                 "axis": {"orient": "left", "ticks": false, "labels": false, "title": ["Credit", "River"], "titleAngle": 0, "titleAlign": "center", "titleBaseline": "bottom", "titlePadding": 105, "titleFontSize": 25, "titleFontWeight": "bold", "titleColor": "#000000", "titleLineHeight": 27}}}},
        {"data": {"name": "lines"}, "transform": [{"filter": "datum.p == 'A4'"}, {"fold": ["Control", "Regimes Detrend"], "as": ["s", "v"]}],
         "mark": {"type": "line", "strokeWidth": 1.3},
         "encoding": {
           "x": {"field": "m", "type": "quantitative", "axis": null},
           "y": {"field": "v", "type": "quantitative", "axis": null},
           "color": {"field": "s", "type": "nominal", "scale": {"domain": ["Control", "Regimes Detrend"], "range": ["#DE6A35", "#3A9FDB"]}, "legend": null}}},
        {"data": {"name": "outliers"}, "transform": [{"filter": "datum.p == 'A4'"}],
         "mark": {"type": "point", "shape": "M-1,0L1,0M0,-1L0,1", "filled": false, "stroke": "#FF0000", "strokeWidth": 1.2, "size": 70, "opacity": 1},
         "encoding": {"x": {"field": "m", "type": "quantitative", "axis": null}, "y": {"field": "v", "type": "quantitative", "axis": null}}},
        {"data": {"name": "stars"}, "transform": [{"filter": "datum.p == 'A4'"}],
         "mark": {"type": "point", "shape": "M-1,0L1,0M0,-1L0,1M-0.7,-0.7L0.7,0.7M-0.7,0.7L0.7,-0.7", "filled": false, "stroke": "#2020FF", "strokeWidth": 1.1, "size": 150, "opacity": 1},
         "encoding": {"x": {"field": "m", "type": "quantitative", "axis": null}, "y": {"field": "v", "type": "quantitative", "axis": null}}}
      ],
      "resolve": {"axis": {"x": "independent", "y": "independent"}}
    },
    {
      "width": 407, "height": 160,
      "data": {"name": "stats"},
      "transform": [{"filter": "datum.p == 'B4'"}],
      "layer": [
        {"mark": {"type": "rule", "color": "#777777", "strokeWidth": 1.4},
         "encoding": {"y": {"datum": 0, "type": "quantitative", "axis": null}}},
        {"mark": {"type": "rule", "color": "#333333", "strokeWidth": 1},
         "encoding": {
           "x": {"field": "m", "type": "quantitative", "scale": {"domain": [0.5, 12.5], "nice": false, "zero": false},
                 "axis": {"orient": "bottom", "values": [1,2,3,4,5,6,7,8,9,10,11,12], "labels": true, "title": null,
                          "labelExpr": "['J','F','M','A','M','J','J','A','S','O','N','D'][datum.value - 1]", "labelFontSize": 23, "labelColor": "#000000", "labelPadding": 25}},
           "y": {"field": "lo", "type": "quantitative", "scale": {"domain": [-30, 30], "nice": false, "zero": false},
                 "axis": {"orient": "left", "values": [-20, -10, 0, 10, 20], "title": "Nb", "titleFontSize": 27, "titlePadding": 3}},
           "y2": {"field": "hi"}}},
        {"transform": [{"filter": "datum.hi > datum.lo"}],
         "mark": {"type": "tick", "orient": "horizontal", "color": "#333333", "size": 8, "thickness": 1},
         "encoding": {"x": {"field": "m", "type": "quantitative", "axis": null}, "y": {"field": "lo", "type": "quantitative", "axis": null}}},
        {"transform": [{"filter": "datum.hi > datum.lo"}],
         "mark": {"type": "tick", "orient": "horizontal", "color": "#333333", "size": 8, "thickness": 1},
         "encoding": {"x": {"field": "m", "type": "quantitative", "axis": null}, "y": {"field": "hi", "type": "quantitative", "axis": null}}},
        {"mark": {"type": "bar", "size": 16, "fill": "#F6D3E4", "stroke": "#3535FF", "strokeWidth": 1.2},
         "encoding": {
           "x": {"field": "m", "type": "quantitative", "axis": {"orient": "top", "values": [1,2,3,4,5,6,7,8,9,10,11,12], "labels": false, "title": null}},
           "y": {"field": "q1", "type": "quantitative", "axis": {"orient": "right", "values": [-20, -10, 0, 10, 20], "labels": false, "title": null}},
           "y2": {"field": "q3"}}},
        {"mark": {"type": "tick", "orient": "horizontal", "color": "#FF0000", "size": 16, "thickness": 1.5},
         "encoding": {"x": {"field": "m", "type": "quantitative", "axis": null}, "y": {"field": "md", "type": "quantitative", "axis": null}}},
        {"data": {"name": "lines"}, "transform": [{"filter": "datum.p == 'B4'"}, {"fold": ["Control", "Regimes Detrend"], "as": ["s", "v"]}],
         "mark": {"type": "line", "strokeWidth": 1.3},
         "encoding": {
           "x": {"field": "m", "type": "quantitative", "axis": null},
           "y": {"field": "v", "type": "quantitative", "axis": null},
           "color": {"field": "s", "type": "nominal", "scale": {"domain": ["Control", "Regimes Detrend"], "range": ["#FF2A2A", "#2A2AFF"]},
                     "legend": {"orient": "top-right", "title": null, "symbolType": "stroke", "symbolSize": 900, "symbolStrokeWidth": 1.5,
                                "labelFontSize": 20, "labelColor": "#000000", "labelOffset": 9, "strokeColor": "#262626", "fillColor": "#FFFFFF",
                                "padding": 3, "rowPadding": -1, "offset": 7}}}},
        {"data": {"name": "outliers"}, "transform": [{"filter": "datum.p == 'B4'"}],
         "mark": {"type": "point", "shape": "M-1,0L1,0M0,-1L0,1", "filled": false, "stroke": "#FF0000", "strokeWidth": 1.2, "size": 70, "opacity": 1},
         "encoding": {"x": {"field": "m", "type": "quantitative", "axis": null}, "y": {"field": "v", "type": "quantitative", "axis": null}}}
      ],
      "resolve": {"axis": {"x": "independent", "y": "independent"}}
    }
  ]
}
